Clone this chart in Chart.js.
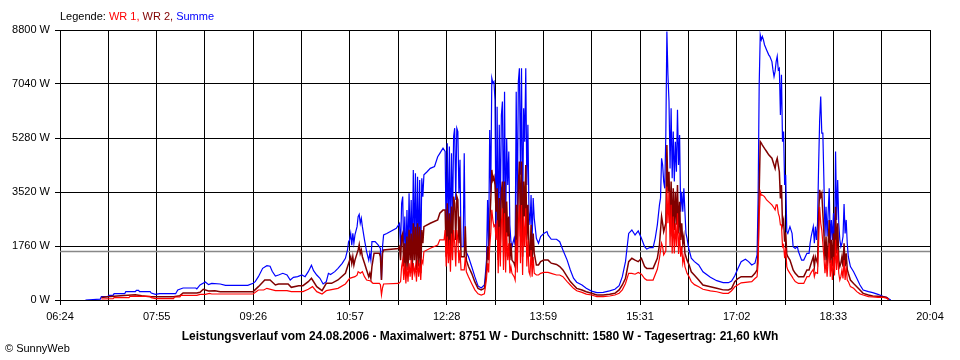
<!DOCTYPE html>
<html lang="de">
<head>
<meta charset="UTF-8">
<title>Leistungsverlauf 24.08.2006</title>
<script src="https://cdn.jsdelivr.net/npm/chart.js"></script>
<style>
    body { margin: 0; background: #fff; }
    #wrap { width: 960px; height: 360px; }
</style>
</head>
<body>
<div id="wrap"><canvas id="power" width="960" height="360"></canvas></div>
<script>
// x = minutes after midnight, y = watts
const xMin = 384;   // 06:24
const xMax = 1204;  // 20:04
const xLabels = ['06:24', '07:55', '09:26', '10:57', '12:28', '13:59', '15:31', '17:02', '18:33', '20:04'];
const yMax = 8800;
const yStep = 1760;
const averageW = 1580;

const legendParts = [['Legende: ', '#000000'], ['WR 1, ', '#ff0000'], ['WR 2, ', '#800000'], ['Summe', '#0000ff']];
const titleText = 'Leistungsverlauf vom 24.08.2006 - Maximalwert: 8751 W - Durchschnitt: 1580 W - Tagesertrag: 21,60 kWh';
const footerText = '\u00a9 SunnyWeb';

const summe = [
    [408,0],[422,30],[423,108],[429,108],[430,150],[434,150],[435,206],[445,206],[446,271],[455,271],[456,315],[458,315],[459,271],[469,271],[470,228],[474,185],[478,206],[493,206],[495,326],[500,391],[512,391],[513,360],[516,489],[521,587],[524,500],[527,540],[535,521],[540,478],[561,478],[566,544],[568,598],[571,761],[575,1033],[579,1119],[582,1100],[584,935],[587,782],[590,815],[594,870],[598,815],[601,652],[604,739],[608,761],[612,815],[615,760],[618,924],[621,1130],[623,957],[626,815],[629,707],[632,522],[635,598],[637,870],[639,830],[643,924],[646,1033],[650,1196],[653,1359],[655,1630],[656,1902],
    [657,1960],[658,2170],[659,1790],[660,2170],[661,1850],[662,2120],[664,2390],[665,2720],[666,2790],[667,2500],[668,2660],[669,2390],[671,1960],[673,1580],[675,1300],[676,1520],[677,1300],[678,1900],[681,1900],[684,1790],[686,1680],[687,650],[688,1740],[689,2120],[692,2170],[701,2340],[704,2500],
    [705,1740],[706,3150],[707,3370],[708,1520],[709,2720],[710,1300],[711,2930],[712,1410],[713,3480],[714,1740],[715,3260],[716,1300],[717,4240],[718,1740],[719,4130],[720,1410],[721,4020],[722,1520],[723,3910],[724,1300],[725,3970],[726,3370],[727,4080],[730,4180],[733,4290],[737,4350],[740,4670],[742,4780],[745,4950],[747,4840],[748,1960],[749,5110],[750,2170],[751,5000],[752,1960],[753,4780],[754,2610],[755,5330],[756,5600],[757,3260],[758,5600],[759,5490],[760,3480],[761,4570],[762,1740],[764,1740],[765,4780],[766,1630],[769,1410],[772,1090],[775,760],[778,460],[781,390],[784,490],[785,870],[786,1300],[787,3260],[788,1740],[789,5540],[790,3480],[791,7230],[792,7070],[793,7120],
    [794,6520],[795,2010],[796,6300],[797,1790],[798,5710],[799,2880],[800,6030],[801,6470],[802,2450],[803,6790],[804,2230],[805,5270],[806,3750],[807,4840],[808,2450],[809,1900],[810,1740],[812,2010],[813,1790],[814,6790],[815,2660],[816,7120],[817,7550],[818,4080],[819,7550],[820,2450],[821,6250],[822,5160],[823,7550],[824,3750],[825,5710],[826,2880],[827,2450],[828,3420],[829,2010],[830,3320],[831,2660],[833,2010],[835,1850],[837,2070],[840,2170],[843,2230],[844,2120],[847,1980],[852,1980],[855,1900],[858,1630],[862,1300],[865,980],[868,710],[871,580],[876,490],[880,380],[885,290],[890,240],[896,250],[902,300],[907,350],[911,470],[914,760],[917,1250],[920,2170],[923,2280],[926,2120],[929,2250],[932,2010],[935,1740],
    [937,1660],[940,1710],[943,1710],[945,2010],[947,2450],[949,3100],[950,3320],[951,4620],[952,4400],[953,3860],[954,3640],[955,5380],[956,8750],[957,7340],[958,6470],[959,4290],[960,6250],[961,3970],[962,5490],[963,3860],[964,5160],[965,4180],[966,6200],[967,4400],[968,5380],[969,2880],[970,3530],[971,2880],[972,3640],[973,2880],[974,2170],[975,2010],[976,1790],[977,1630],[979,1360],[982,1250],[986,1140],[990,920],[997,740],[1003,630],[1009,565],[1014,565],[1017,620],[1020,790],[1023,1030],[1026,1250],[1030,1330],[1033,1250],[1036,1140],[1039,1200],[1041,1470],[1042,3320],[1043,7010],[1044,8640],[1045,8480],[1046,8590],[1047,8480],[1048,8320],[1050,8150],[1052,7990],[1053,7940],[1055,7770],[1056,7500],[1057,7280],[1058,7450],[1059,7770],[1060,7940],[1061,7500],[1062,7550],[1063,6030],[1064,7340],[1065,5160],[1066,5490],[1067,3750],[1068,4080],[1069,2230],[1070,2170],[1072,2390],[1074,2170],[1075,1740],[1077,1680],[1079,1740],[1080,1580],[1083,1300],[1085,1300],[1088,1520],[1090,1520],[1091,1850],[1092,2070],[1094,2390],[1095,1850],[1096,2390],[1097,1960],[1098,2500],[1099,4350],[1100,5870],[1101,6630],[1102,5440],[1103,5440],[1104,3910],[1105,2070],[1106,3040],[1107,2070],[1108,2830],[1109,3640],[1110,1850],[1111,2610],[1112,1960],[1113,2830],[1114,1740],[1115,4840],[1116,2610],[1117,3910],[1118,2500],[1119,1960],[1120,1740],[1121,1850],[1122,2070],[1123,3130],[1124,2170],[1125,2610],[1126,1850],[1127,1410],[1129,1090],[1132,920],[1135,710],[1138,490],[1141,326],[1146,272],[1150,240],[1155,185],[1160,110],[1163,87],[1165,43],[1167,0]
];

const wr2 = [
    [423,80],[429,108],[441,141],[455,174],[461,141],[469,108],[491,108],[497,141],[500,228],[513,228],[516,250],[519,348],[524,293],[530,305],[535,272],[566,272],[571,435],[577,652],[582,652],[587,489],[590,522],[599,522],[602,413],[609,467],[613,467],[618,598],[621,707],[626,435],[631,304],[635,544],[640,544],[646,652],[653,870],[655,1087],
    [657,1300],[658,1410],[659,1190],[660,1410],[661,1140],[662,1300],[664,1520],[665,1630],[666,1800],[667,1520],[668,1630],[669,1410],[671,1200],[673,980],[675,760],[676,870],[677,700],[678,1090],[680,1520],[685,1520],[686,1410],[687,650],[688,1520],[689,1630],[703,1680],[704,1740],
    [705,1300],[706,2070],[707,2170],[708,1090],[709,1850],[710,870],[711,2070],[712,980],[713,2290],[714,1300],[715,2170],[716,870],[717,2500],[718,1300],[719,2390],[720,980],[721,2500],[722,1090],[723,2390],[724,870],[725,2280],[726,1850],[727,2390],[733,2500],[740,2610],[742,2830],[745,2930],[747,2930],[748,1410],[749,3150],[750,1520],[751,2830],[752,1300],[753,3050],[754,1740],[755,3370],[756,3150],[757,1960],[758,3370],[759,3260],[760,1850],[761,2720],[762,1410],[765,1410],[766,2400],[767,1300],[769,1090],[772,870],[775,590],[778,380],[781,330],[784,380],[785,600],[786,1000],[787,1740],[788,1300],[789,2500],[790,3260],[791,4240],[792,3910],[793,4020],
    [794,3750],[795,2880],[796,3640],[797,1300],[798,3320],[799,1850],[800,3530],[801,3860],[802,1740],[803,3860],[804,1410],[805,3210],[806,2070],[807,2720],[808,1300],[809,1850],[810,1300],[812,1200],[813,1090],[814,3100],[815,1520],[816,3750],[817,4510],[818,2070],[819,4510],[820,1410],[821,3860],[822,2720],[823,4400],[824,1960],[825,3100],[826,1630],[827,1410],[828,2450],[829,1200],[830,2170],[831,1520],[833,1140],[835,1140],[837,1250],[840,1300],[844,1300],[847,1200],[852,1160],[855,1090],[858,980],[862,760],[865,600],[868,490],[871,380],[876,326],[880,270],[885,217],[890,163],[896,163],[902,190],[907,217],[911,330],[914,490],[917,710],[920,1250],[923,1360],[926,1300],[929,1250],[932,1360],[935,1090],
    [937,1030],[943,1030],[947,1360],[949,1790],[951,2720],[952,2500],[953,2230],[955,2500],[956,5050],[957,3530],[958,4180],[959,2400],[960,3860],[961,2070],[962,3640],[963,2280],[964,3530],[965,2450],[966,3750],[967,2170],[968,3200],[969,1960],[970,2500],[971,1850],[972,2070],[973,1520],[974,1410],[975,1300],[977,1140],[979,920],[982,810],[986,650],[990,490],[997,430],[1003,380],[1009,330],[1014,326],[1017,380],[1020,600],[1023,700],[1026,760],[1030,760],[1036,760],[1039,870],[1041,980],[1042,1630],[1043,3530],[1044,5160],[1045,5110],[1046,5050],[1048,4940],[1050,4840],[1052,4730],[1055,4620],[1057,4400],[1058,4290],[1059,4510],[1060,4620],[1061,4400],[1062,4180],[1063,3310],[1064,3750],[1065,2450],[1066,2600],[1067,1900],[1068,2200],[1069,1500],[1070,1410],[1072,1300],[1074,1090],[1075,980],[1077,870],[1080,760],[1085,760],[1088,980],[1090,980],[1092,1200],[1094,1410],[1095,1090],[1096,1410],[1098,1200],[1099,2720],[1100,3590],[1101,3370],[1102,3480],[1103,2830],[1104,2170],[1105,1300],[1106,2070],[1107,1090],[1108,1850],[1109,2610],[1110,1200],[1111,1960],[1112,1090],[1113,2170],[1114,1200],[1115,3040],[1116,1520],[1117,2500],[1118,1300],[1119,1090],[1120,1200],[1121,1410],[1122,1090],[1123,1850],[1124,1090],[1125,1520],[1126,1000],[1127,870],[1129,650],[1132,540],[1135,435],[1138,326],[1141,217],[1146,163],[1150,130],[1155,120],[1160,110],[1163,87],[1165,20]
];

const wr1 = [
    [423,33],[434,43],[435,76],[449,76],[450,120],[469,120],[470,76],[474,43],[491,43],[492,98],[497,98],[498,152],[513,152],[516,185],[521,185],[525,217],[527,196],[566,196],[571,326],[576,326],[579,380],[587,304],[598,304],[602,272],[613,272],[618,348],[622,435],[626,272],[631,196],[635,304],[646,380],[653,522],
    [657,707],[662,760],[664,810],[665,924],[667,870],[669,920],[671,760],[673,652],[677,620],[679,543],[685,543],[686,500],[687,163],[688,400],[689,522],[703,540],[704,560],
    [705,600],[706,1090],[707,1300],[708,650],[709,1200],[710,540],[711,1090],[712,600],[713,1200],[714,760],[715,1300],[716,650],[717,1200],[718,870],[719,1090],[720,600],[721,1300],[722,760],[723,1200],[724,650],[725,1300],[726,1200],[727,1580],[733,1685],[740,1790],[742,1960],[746,1960],[747,2280],[748,1090],[749,2070],[750,1200],[751,1960],[752,924],[753,2170],[754,1300],[755,2280],[756,1850],[757,1090],[758,2280],[759,1960],[760,1200],[761,1630],[762,980],[765,980],[766,1400],[767,920],[769,760],[772,540],[775,330],[778,200],[781,163],[784,200],[785,435],[786,700],[787,1200],[788,900],[789,1740],[790,2170],[791,2940],[792,2600],[793,2400],
    [794,2450],[795,1960],[796,2600],[797,870],[798,2390],[799,1090],[800,2500],[801,2990],[802,980],[803,2830],[804,900],[805,2200],[806,1300],[807,1850],[808,870],[809,1090],[810,870],[812,760],[813,650],[814,1960],[815,900],[816,2500],[817,3100],[818,1200],[819,3100],[820,815],[821,2720],[822,1740],[823,2990],[824,1090],[825,1960],[826,920],[827,815],[828,1630],[829,760],[830,1410],[831,870],[833,815],[835,815],[837,870],[840,900],[844,900],[847,870],[852,815],[855,815],[858,760],[862,600],[865,490],[868,380],[871,300],[876,250],[880,190],[885,163],[890,110],[896,110],[902,130],[907,163],[911,220],[914,330],[917,540],[920,870],[923,870],[926,840],[929,900],[932,840],[935,700],
    [937,650],[943,650],[947,1000],[949,1360],[951,1850],[952,1740],[953,1470],[955,1600],[956,3700],[957,2500],[958,3530],[959,1740],[960,3100],[961,1520],[962,2720],[963,1520],[964,2500],[965,1740],[966,2830],[967,1500],[968,2200],[969,1410],[970,1740],[971,1200],[972,1410],[973,1090],[974,980],[975,870],[977,760],[979,600],[982,500],[986,430],[990,350],[997,300],[1003,270],[1009,217],[1014,217],[1017,300],[1020,430],[1023,500],[1026,560],[1036,600],[1039,700],[1041,760],[1042,1200],[1043,2720],[1044,3530],[1045,3420],[1046,3420],[1048,3370],[1050,3260],[1052,3200],[1055,3100],[1057,3000],[1058,2940],[1059,3100],[1060,3100],[1061,2830],[1062,2720],[1063,2450],[1064,2450],[1065,1740],[1066,1800],[1067,1360],[1068,1700],[1069,1090],[1070,980],[1072,870],[1074,760],[1075,700],[1077,600],[1080,540],[1085,540],[1088,760],[1090,760],[1092,900],[1094,1000],[1095,760],[1096,900],[1098,870],[1099,1850],[1100,3040],[1101,2500],[1102,2280],[1103,1850],[1104,1410],[1105,870],[1106,1300],[1107,760],[1108,1300],[1109,1850],[1110,760],[1111,1300],[1112,650],[1113,1410],[1114,800],[1115,1960],[1116,980],[1117,1630],[1118,870],[1119,650],[1120,760],[1121,980],[1122,700],[1123,1300],[1124,650],[1125,1090],[1126,650],[1127,600],[1129,435],[1132,380],[1135,272],[1138,200],[1141,163],[1146,110],[1150,100],[1155,87],[1160,87],[1163,60],[1165,20]
];

const FONT = '"Liberation Sans", Arial, sans-serif';

// grid every half label step (18 intervals)
const gridTicks = [];
for (let i = 0; i <= 18; i++) gridTicks.push({ value: xMin + i * (xMax - xMin) / 18 });

// legend line, title and footer
const textPlugin = {
    id: 'sunnyText',
    afterDraw(chart) {
        const c = chart.ctx;
        c.save();
        c.textBaseline = 'middle';
        c.font = '11px ' + FONT;
        let x = 60;
        legendParts.forEach(([t, col]) => {
            c.fillStyle = col;
            c.fillText(t, x, 17);
            x += c.measureText(t).width;
        });
        c.fillStyle = '#000';
        c.font = 'bold 12px ' + FONT;
        c.textAlign = 'center';
        c.fillText(titleText, 480, 337);
        c.textAlign = 'left';
        c.font = '11px ' + FONT;
        c.fillText(footerText, 5, 349);
        c.restore();
    }
};

const line = (label, data, color, width) => ({
    label: label,
    data: data,
    borderColor: color,
    borderWidth: width,
    pointRadius: 0,
    tension: 0,
    fill: false
});

new Chart(document.getElementById('power'), {
    type: 'line',
    data: {
        datasets: [
            line('WR 1', wr1, '#ff0000', 1.2),
            line('WR 2', wr2, '#800000', 1.5),
            line('Summe', summe, '#0000ff', 1.2),
            line('Durchschnitt', [[xMin, averageW], [xMax, averageW]], '#888888', 1.5)
        ]
    },
    options: {
        responsive: false,
        devicePixelRatio: 1,
        animation: false,
        layout: { padding: { left: 0, right: 30, top: 30, bottom: 0 } },
        plugins: {
            legend: { display: false },
            tooltip: { enabled: false }
        },
        scales: {
            x: {
                type: 'linear',
                min: xMin,
                max: xMax,
                afterBuildTicks: s => { s.ticks = gridTicks.map(t => ({ value: t.value })); },
                afterFit: s => { s.height = 60; },
                ticks: {
                    autoSkip: false,
                    maxRotation: 0,
                    padding: 5,
                    color: '#000',
                    font: { family: FONT, size: 11 },
                    callback: (v, i) => (i % 2 === 0 ? xLabels[i / 2] : '')
                },
                grid: { color: '#000', lineWidth: 1, tickLength: 5 },
                border: { color: '#000' }
            },
            y: {
                min: 0,
                max: yMax,
                afterFit: s => { s.width = 60; },
                ticks: {
                    stepSize: yStep,
                    padding: 5,
                    color: '#000',
                    font: { family: FONT, size: 11 },
                    callback: v => v + ' W'
                },
                grid: { color: '#000', lineWidth: 1, tickLength: 5 },
                border: { color: '#000' }
            }
        }
    },
    plugins: [textPlugin]
});
</script>
</body>
</html>
